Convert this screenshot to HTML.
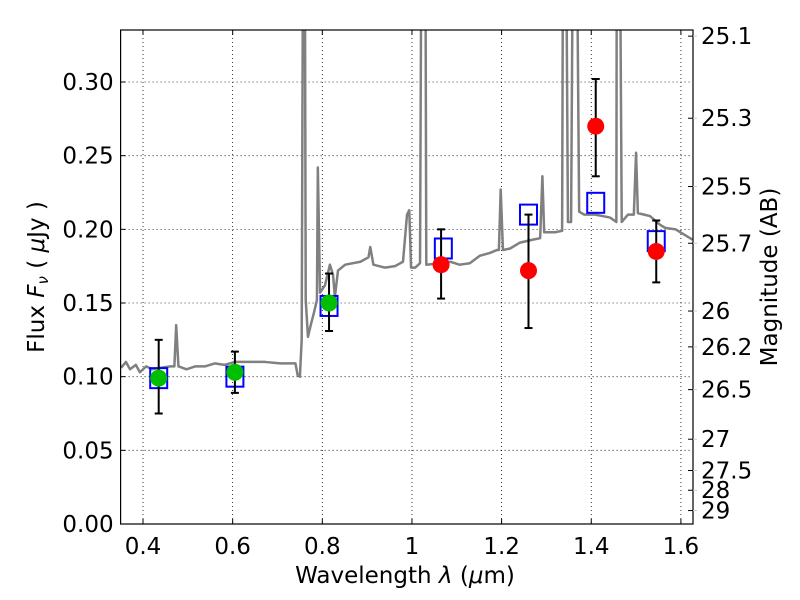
<!DOCTYPE html>
<html><head><meta charset="utf-8"><style>
body{margin:0;background:#fff}
svg{display:block;font-family:"DejaVu Sans","Liberation Sans",sans-serif}
</style></head><body>
<svg id="chart" width="800" height="600" viewBox="0 0 800 600" xmlns="http://www.w3.org/2000/svg">
<rect width="800" height="600" fill="#fff"/>
<defs><clipPath id="clip"><rect x="120.6" y="30" width="572.4" height="494"/></clipPath></defs>
<g id="grid"></g>
<g id="spec" clip-path="url(#clip)"></g>
<g id="marks" clip-path="url(#clip)"></g>
<rect x="120.6" y="30" width="572.4" height="494" fill="none" stroke="#000" stroke-width="1.2"/>
<g id="axes"></g>
<text x="405" y="583" font-size="23" text-anchor="middle">Wavelength  <tspan font-style="italic">λ</tspan> (<tspan font-style="italic">μ</tspan>m)</text>
<text transform="translate(44,277) rotate(-90)" font-size="23" text-anchor="middle">Flux  <tspan font-style="italic">F</tspan><tspan font-style="italic" font-size="15" dy="4">ν</tspan><tspan dy="-4">  ( </tspan><tspan font-style="italic">μ</tspan>Jy )</text>
<text transform="translate(777,277) rotate(-90)" font-size="23" text-anchor="middle">Magnitude (AB)</text>
</svg>
<script>
const xTicks=[0.4,0.6,0.8,1.0,1.2,1.4,1.6];
const xTickLabels=["0.4","0.6","0.8","1","1.2","1.4","1.6"];
const yTicks=[0,0.05,0.10,0.15,0.20,0.25,0.30];
const yTickLabels=["0.00","0.05","0.10","0.15","0.20","0.25","0.30"];
const magTicks=[25.1,25.3,25.5,25.7,26,26.2,26.5,27,27.5,28,29];
const specWave=[0.351,0.362,0.371,0.384,0.393,0.407,0.420,0.438,0.461,0.470,0.474,0.479,0.497,0.517,0.539,0.560,0.582,0.605,0.638,0.672,0.706,0.740,0.745,0.750,0.754,0.757,0.761,0.763,0.768,0.775,0.781,0.788,0.790,0.795,0.806,0.817,0.824,0.828,0.835,0.851,0.885,0.903,0.907,0.914,0.940,0.962,0.980,0.989,0.994,0.998,1.007,1.018,1.021,1.030,1.032,1.063,1.086,1.106,1.129,1.151,1.174,1.190,1.194,1.198,1.203,1.219,1.241,1.270,1.286,1.291,1.295,1.319,1.335,1.337,1.344,1.348,1.355,1.359,1.368,1.373,1.384,1.409,1.442,1.456,1.457,1.464,1.468,1.482,1.495,1.500,1.504,1.531,1.554,1.565,1.588,1.626];
const specFlux=[0.106,0.110,0.105,0.108,0.103,0.107,0.105,0.106,0.107,0.107,0.135,0.107,0.105,0.107,0.107,0.109,0.108,0.110,0.110,0.110,0.109,0.109,0.101,0.100,0.125,0.4,0.4,0.152,0.127,0.136,0.143,0.152,0.242,0.157,0.162,0.176,0.169,0.154,0.172,0.176,0.178,0.181,0.188,0.176,0.174,0.175,0.178,0.210,0.213,0.174,0.174,0.177,0.4,0.4,0.176,0.177,0.178,0.176,0.177,0.182,0.184,0.186,0.186,0.227,0.186,0.187,0.191,0.193,0.194,0.236,0.198,0.198,0.199,0.4,0.4,0.205,0.205,0.4,0.4,0.212,0.210,0.210,0.208,0.205,0.4,0.4,0.205,0.210,0.210,0.252,0.211,0.209,0.203,0.201,0.200,0.193];
const greenWave=[0.435,0.605,0.815];
const greenFlux=[0.099,0.103,0.150];
const greenLo=[0.075,0.089,0.131];
const greenHi=[0.125,0.117,0.170];
const redWave=[1.065,1.26,1.41,1.545];
const redFlux=[0.176,0.172,0.270,0.185];
const redLo=[0.153,0.133,0.236,0.164];
const redHi=[0.200,0.210,0.302,0.206];
const boxWave=[0.435,0.605,0.815,1.07,1.26,1.41,1.545];
const boxFlux=[0.099,0.100,0.148,0.187,0.210,0.218,0.192];

const X0=120.6,X1=693,Y0=524,Y1=30,xmin=0.35,xmax=1.627,ymin=0,ymax=0.3353;
const sx=v=>X0+(v-xmin)/(xmax-xmin)*(X1-X0);
const sy=v=>Y0-(v-ymin)/(ymax-ymin)*(Y0-Y1);
const NS="http://www.w3.org/2000/svg";
function mk(tag,attrs,parent){const e=document.createElementNS(NS,tag);for(const k in attrs)e.setAttribute(k,attrs[k]);parent.appendChild(e);return e;}
const grid=document.getElementById('grid'),axes=document.getElementById('axes'),spec=document.getElementById('spec'),marks=document.getElementById('marks');
xTicks.forEach((t,i)=>{const x=sx(t);
 const g=mk('line',{x1:x,x2:x,y1:Y1,y2:Y0,stroke:'#000','stroke-width':0.8,'stroke-dasharray':'1,3'},grid);
 
 
 mk('line',{x1:x,x2:x,y1:Y0,y2:Y0-5,stroke:'#000'},axes);
 mk('line',{x1:x,x2:x,y1:Y1,y2:Y1+5,stroke:'#000'},axes);
 const l=mk('text',{x:x,y:Y0+30,'font-size':23,'text-anchor':'middle'},axes);l.textContent=xTickLabels[i];
 
 });
yTicks.forEach((t,i)=>{const y=sy(t);
 const g=mk('line',{x1:X0,x2:X1,y1:y,y2:y,stroke:'#000','stroke-width':0.8,'stroke-dasharray':'1,3'},grid);
 
 
 mk('line',{x1:X0,x2:X0+5,y1:y,y2:y,stroke:'#000'},axes);
 const l=mk('text',{x:X0-7,y:y+8,'font-size':23,'text-anchor':'end'},axes);l.textContent=yTickLabels[i];
 
 });
magTicks.forEach(m=>{const f=Math.pow(10,(23.9-m)/2.5);const y=sy(f);
 mk('line',{x1:X1-5,x2:X1,y1:y,y2:y,stroke:'#000'},axes);
 mk('line',{x1:X1,x2:X1+4,y1:y,y2:y,stroke:'#ccc'},axes);
 const l=mk('text',{x:X1+8,y:y+8,'font-size':23},axes);l.textContent=String(m);
 
 });
const p=mk('polyline',{points:specWave.map((w,i)=>sx(w)+','+sy(specFlux[i])).join(' '),fill:'none',stroke:'#808080','stroke-width':2.5,'stroke-linejoin':'round'},spec);


function err(w,lo,hi){const x=sx(w);
 const e=mk('line',{x1:x,x2:x,y1:sy(lo),y2:sy(hi),stroke:'#000','stroke-width':2},marks);
 
 
 mk('line',{x1:x-4,x2:x+4,y1:sy(lo),y2:sy(lo),stroke:'#000','stroke-width':2},marks);
 mk('line',{x1:x-4,x2:x+4,y1:sy(hi),y2:sy(hi),stroke:'#000','stroke-width':2},marks);}
boxWave.forEach((w,i)=>{const r=mk('rect',{x:sx(w)-8.5,y:sy(boxFlux[i])-10,width:17,height:20,fill:'none',stroke:'#0000ff','stroke-width':2},marks);
 
 });
greenWave.forEach((w,i)=>{err(w,greenLo[i],greenHi[i]);
 const c=mk('circle',{cx:sx(w),cy:sy(greenFlux[i]),r:8.5,fill:'#00bf00'},marks);
 
 });
redWave.forEach((w,i)=>{err(w,redLo[i],redHi[i]);
 const c=mk('circle',{cx:sx(w),cy:sy(redFlux[i]),r:8.5,fill:'#ff0000'},marks);
 
 });
</script>
</body></html>
